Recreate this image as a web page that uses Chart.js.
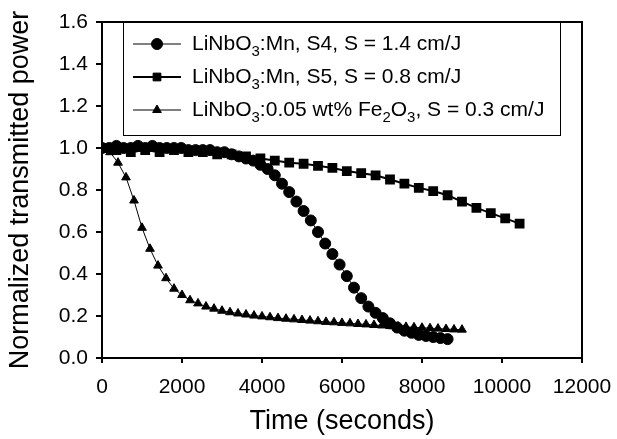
<!DOCTYPE html>
<html>
<head>
<meta charset="utf-8">
<script src="https://cdn.jsdelivr.net/npm/chart.js@4.4.1/dist/chart.umd.min.js"></script>
<style>
  html, body { margin: 0; padding: 0; background: #fff; }
  #wrap { width: 617px; height: 439px; }
</style>
</head>
<body>
<div id="wrap"><canvas id="line_chart" width="617" height="439"></canvas></div>
<script>
// LiNbO3:Mn, S4 (circles)
var s4Time = [0, 180, 360, 540, 720, 900, 1080, 1260, 1440, 1620, 1800, 1980, 2160, 2340, 2520, 2700,
    2880, 3060, 3240, 3420, 3600, 3780, 3960, 4140, 4320, 4500, 4680, 4860, 5040, 5220, 5400, 5580,
    5760, 5940, 6120, 6300, 6480, 6660, 6840, 7020, 7200, 7380, 7560, 7740, 7920, 8100, 8280, 8460, 8640];
var s4Power = [1.00, 1.00, 1.01, 1.00, 1.00, 1.01, 1.00, 1.01, 1.00, 1.00, 1.00, 1.00, 0.99, 0.99, 0.99, 0.99,
    0.98, 0.98, 0.97, 0.96, 0.95, 0.94, 0.92, 0.90, 0.87, 0.83, 0.79, 0.745, 0.70, 0.655, 0.60, 0.545,
    0.495, 0.445, 0.39, 0.335, 0.285, 0.245, 0.215, 0.19, 0.165, 0.145, 0.13, 0.12, 0.11, 0.105, 0.10, 0.095, 0.09];

// LiNbO3:Mn, S5 (squares)
var s5Time = [0, 360, 720, 1080, 1440, 1800, 2160, 2520, 2880, 3240, 3600, 3960, 4320, 4680, 5040,
    5400, 5760, 6120, 6480, 6840, 7200, 7560, 7920, 8280, 8640, 9000, 9360, 9720, 10080, 10440];
var s5Power = [1.00, 0.99, 0.98, 0.99, 0.98, 0.99, 0.98, 0.98, 0.97, 0.97, 0.96, 0.95, 0.94, 0.93, 0.925,
    0.915, 0.905, 0.89, 0.88, 0.87, 0.85, 0.83, 0.81, 0.795, 0.775, 0.745, 0.715, 0.69, 0.665, 0.64];

// LiNbO3:0.05 wt% Fe2O3 (triangles)
var feTime = [0, 200, 400, 600, 800, 1000, 1200, 1400, 1600, 1800, 2000, 2200, 2400, 2600, 2800, 3000,
    3200, 3400, 3600, 3800, 4000, 4200, 4400, 4600, 4800, 5000, 5200, 5400, 5600, 5800, 6000, 6200,
    6400, 6600, 6800, 7000, 7200, 7400, 7600, 7800, 8000, 8200, 8400, 8600, 8800, 9000];
var fePower = [1.00, 0.98, 0.93, 0.86, 0.75, 0.62, 0.52, 0.44, 0.38, 0.33, 0.30, 0.275, 0.26, 0.245, 0.235, 0.225,
    0.218, 0.212, 0.207, 0.202, 0.198, 0.194, 0.19, 0.187, 0.184, 0.181, 0.178, 0.175, 0.172, 0.17, 0.167, 0.165,
    0.162, 0.16, 0.157, 0.155, 0.152, 0.15, 0.148, 0.146, 0.144, 0.142, 0.14, 0.138, 0.136, 0.135];

// legend text pieces: [text, isSubscript]
var legendLabels = [
    [['LiNbO', 0], ['3', 1], [':Mn, S4, S = 1.4 cm/J', 0]],
    [['LiNbO', 0], ['3', 1], [':Mn, S5, S = 0.8 cm/J', 0]],
    [['LiNbO', 0], ['3', 1], [':0.05 wt% Fe', 0], ['2', 1], ['O', 0], ['3', 1], [', S = 0.3 cm/J', 0]]
];

var xTitle = 'Time (seconds)';
var yTitle = 'Normalized transmitted power';

function toPoints(xs, ys) {
    return xs.map(function (x, i) { return { x: x, y: ys[i] }; });
}

var FONT = 'Arial, "Liberation Sans", sans-serif';

// frame around the plot + boxed legend with subscripts
var framePlugin = {
    id: 'frame',
    afterDatasetsDraw: function (chart) {
        var ctx = chart.ctx;
        var a = chart.chartArea;
        var ds = chart.data.datasets;
        ctx.save();
        ctx.strokeStyle = '#000';
        ctx.lineWidth = 2;
        ctx.strokeRect(a.left, a.top, a.right - a.left, a.bottom - a.top);

        // legend box
        var bx = a.left + 21, by = a.top, bw = 437, bh = 113;
        ctx.fillStyle = '#fff';
        ctx.fillRect(bx, by, bw, bh);
        ctx.lineWidth = 1;
        ctx.strokeRect(bx + 0.5, by + 0.5, bw, bh);

        for (var i = 0; i < legendLabels.length; i++) {
            var cy = by + 22 + i * 33;
            var d = ds[i];
            ctx.strokeStyle = '#000';
            ctx.fillStyle = '#000';
            ctx.lineWidth = d.borderWidth;
            ctx.beginPath();
            ctx.moveTo(bx + 10, cy);
            ctx.lineTo(bx + 58, cy);
            ctx.stroke();
            ctx.lineWidth = 1;
            Chart.helpers.drawPoint(ctx, {
                pointStyle: d.pointStyle, radius: d.pointRadius, borderWidth: 1
            }, bx + 34, cy);

            var x = bx + 69;
            ctx.textBaseline = 'middle';
            ctx.textAlign = 'left';
            legendLabels[i].forEach(function (p) {
                if (p[1]) {
                    ctx.font = '15px ' + FONT;
                    ctx.fillText(p[0], x, cy + 8);
                } else {
                    ctx.font = '21px ' + FONT;
                    ctx.fillText(p[0], x, cy);
                }
                x += ctx.measureText(p[0]).width;
            });
        }
        ctx.restore();
    }
};

var ctx = document.getElementById('line_chart').getContext('2d');
var myChart = new Chart(ctx, {
    type: 'scatter',
    data: {
        datasets: [{
            label: 'S4',
            data: toPoints(s4Time, s4Power),
            showLine: true,
            borderColor: '#000',
            backgroundColor: '#000',
            borderWidth: 1,
            pointStyle: 'circle',
            pointRadius: 5.5,
            tension: 0
        }, {
            label: 'S5',
            data: toPoints(s5Time, s5Power),
            showLine: true,
            borderColor: '#000',
            backgroundColor: '#000',
            borderWidth: 2,
            pointStyle: 'rect',
            pointRadius: 5.5,
            tension: 0
        }, {
            label: 'Fe',
            data: toPoints(feTime, fePower),
            showLine: true,
            borderColor: '#000',
            backgroundColor: '#000',
            borderWidth: 1,
            pointStyle: 'triangle',
            pointRadius: 5,
            tension: 0
        }]
    },
    options: {
        responsive: false,
        animation: false,
        layout: { padding: { left: 4, right: 35, top: 22, bottom: 1 } },
        plugins: {
            legend: { display: false },
            tooltip: { enabled: false },
            title: { display: false }
        },
        scales: {
            x: {
                type: 'linear',
                min: 0,
                max: 12000,
                afterFit: function (s) {
                    s.height = 439 - 358 - 1;
                    s.paddingRight = 0;
                    s.paddingLeft = 0;
                },
                border: { display: false },
                grid: { drawOnChartArea: false, drawTicks: true, tickLength: 5, color: '#000', lineWidth: 2 },
                ticks: { stepSize: 2000, color: '#000', padding: 12, maxRotation: 0,
                    font: { family: FONT, size: 21 },
                    callback: function (v) { return String(v); } },
                title: { display: true, text: xTitle, color: '#000', padding: { top: 0, bottom: 0 },
                    font: { family: FONT, size: 27 } }
            },
            y: {
                min: 0,
                max: 1.6,
                afterFit: function (s) { s.width = 102 - 4; },
                border: { display: false },
                grid: { drawOnChartArea: false, drawTicks: true, tickLength: 6, color: '#000', lineWidth: 2 },
                ticks: { stepSize: 0.2, color: '#000', padding: 8,
                    font: { family: FONT, size: 21 },
                    callback: function (v) { return v.toFixed(1); } },
                title: { display: true, text: yTitle, color: '#000', padding: 0,
                    font: { family: FONT, size: 27 } }
            }
        }
    },
    plugins: [framePlugin]
});
</script>
</body>
</html>
